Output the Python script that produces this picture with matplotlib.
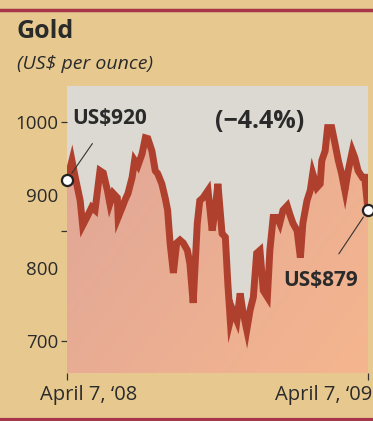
import matplotlib.pyplot as plt
import matplotlib.dates as mdates
import numpy as np

# gold price (days after April 7 2008, US$ per ounce)
days = [0, 6, 10, 16, 19, 24, 30, 34, 40, 44, 49, 52, 56, 61, 62, 67, 70, 74, 79, 82,
        86, 91, 95, 98, 103, 107, 110, 115, 119, 122, 125, 129, 133, 137, 141, 146, 149,
        153, 158, 161, 165, 171, 176, 179, 183, 188, 192, 195, 198, 201, 206, 210, 213,
        218, 222, 226, 230, 234, 238, 243, 246, 250, 255, 258, 262, 267, 270, 274, 279,
        283, 286, 291, 295, 298, 303, 307, 309, 313, 316, 321, 325, 329, 333, 337, 341,
        346, 349, 353, 358, 361, 365]
price = [920, 947, 924, 892, 858, 869, 883, 879, 933, 930, 906, 888, 902, 896, 869, 883,
         892, 902, 924, 947, 940, 956, 978, 977, 960, 933, 929, 915, 896, 879, 834, 793,
         834, 838, 834, 824, 806, 752, 861, 892, 896, 906, 851, 874, 915, 847, 842, 779,
         728, 742, 728, 765, 742, 715, 742, 760, 820, 824, 769, 760, 824, 869, 869, 861,
         879, 885, 874, 861, 851, 814, 861, 892, 906, 929, 910, 915, 947, 960, 992, 992,
         970, 947, 929, 906, 933, 960, 951, 933, 924, 924, 879]

start = np.datetime64('2008-04-07')
dates = start + np.array(days).astype('timedelta64[D]')
ytick_vals = [700, 800, 900, 1000]
ytick_marks = [700, 850, 1000]
x_labels = ["April 7, \u201808", "April 7, \u201809"]

tan = '#e7c98f'
grey = '#dbd9d1'
line_col = '#b0402e'
rule = '#a8364a'
ink = '#2a2a2a'

plt.rcParams['font.family'] = ['Open Sans', 'DejaVu Sans']

fig = plt.figure(figsize=(3.73, 4.21), dpi=100)
fig.patch.set_facecolor(tan)
ax = fig.add_axes([67/373, 48/421, 301/373, 287/421])
ax.set_facecolor(grey)

x0, x1 = dates[0], dates[-1]

# salmon fill under the line with a soft gradient
poly = ax.fill_between(dates, price, 600, color='none', lw=0)
gx, gy = np.meshgrid(np.linspace(0, 1, 200), np.linspace(0, 1, 200))
t = np.clip(0.6 * gx + 0.5 * gy - 0.05, 0, 1)
c0 = np.array([224, 166, 152]) / 255
c1 = np.array([245, 182, 142]) / 255
img = c0[None, None, :] * (1 - t[..., None]) + c1[None, None, :] * t[..., None]
xl = mdates.date2num(x0), mdates.date2num(x1)
im = ax.imshow(img, extent=[xl[0], xl[1], 600, 1049], origin='upper', aspect='auto', zorder=1)
im.set_clip_path(poly.get_paths()[0], transform=ax.transData)
ax.set_xlim(x0, x1)
ax.set_ylim(656, 1049)

ax.plot(dates, price, color=line_col, lw=5, solid_joinstyle='miter', zorder=3)

# end markers and leader lines
ax.plot([dates[0], dates[-1]], [price[0], price[-1]], 'o', ms=8, mfc='white',
        mec='#222222', mew=1.6, zorder=5, clip_on=False)
ax.annotate('US$920', xy=(dates[0], price[0]), xytext=(0.017, 1004),
            textcoords=('axes fraction', 'data'), fontsize=15, fontweight='bold',
            color=ink, va='center', ha='left',
            arrowprops=dict(arrowstyle='-', color='#333333', lw=0.8,
                            shrinkA=10, shrinkB=6))
ax.text(0.64, 1000, '(\u22124.4%)', transform=ax.get_yaxis_transform(), fontsize=18,
        fontweight='bold', color=ink, ha='center', va='center', zorder=6)
ax.annotate('US$879', xy=(dates[-1], price[-1]), xytext=(0.967, 782),
            textcoords=('axes fraction', 'data'), fontsize=15, fontweight='bold',
            color=ink, va='center', ha='right',
            arrowprops=dict(arrowstyle='-', color='#333333', lw=0.8,
                            shrinkA=12, shrinkB=6))

for s in ax.spines.values():
    s.set_visible(False)

# labels without marks, and short dashes at 700 / 850 / 1000 on a second left axis
ax.set_yticks(ytick_vals)
ax.set_yticklabels([str(v) for v in ytick_vals], fontsize=13.5, color=ink)
ax.tick_params(axis='y', length=0, pad=6)
dash = ax.secondary_yaxis('left')
dash.set_yticks(ytick_marks)
dash.set_yticklabels([])
dash.tick_params(axis='y', length=4, width=0.9, color='#333333')
dash.spines['left'].set_visible(False)

ax.set_xticks([x0, x1])
ax.set_xticklabels(['', ''])
ax.tick_params(axis='x', length=5, width=0.9, color='#333333', pad=2)
ax.text(-0.09, -0.078, x_labels[0], transform=ax.transAxes, fontsize=14.5,
        color=ink, ha='left', va='center')
ax.text(1.013, -0.078, x_labels[1], transform=ax.transAxes, fontsize=14.5,
        color=ink, ha='right', va='center')

fig.text(17/373, 1 - 32/421, 'Gold', fontsize=18, fontweight='bold', color=ink,
         ha='left', va='center')
fig.text(17/373, 1 - 64/421, '(US$ per ounce)', fontsize=14, style='italic',
         color=ink, ha='left', va='center')

# red rules at top and bottom
fig.add_artist(plt.Line2D([0, 1], [1 - 10/421, 1 - 10/421], color=rule, lw=2.5))
fig.add_artist(plt.Line2D([0, 1], [1/421, 1/421], color=rule, lw=3))

fig.savefig('out.png', dpi=100, facecolor=fig.get_facecolor())
